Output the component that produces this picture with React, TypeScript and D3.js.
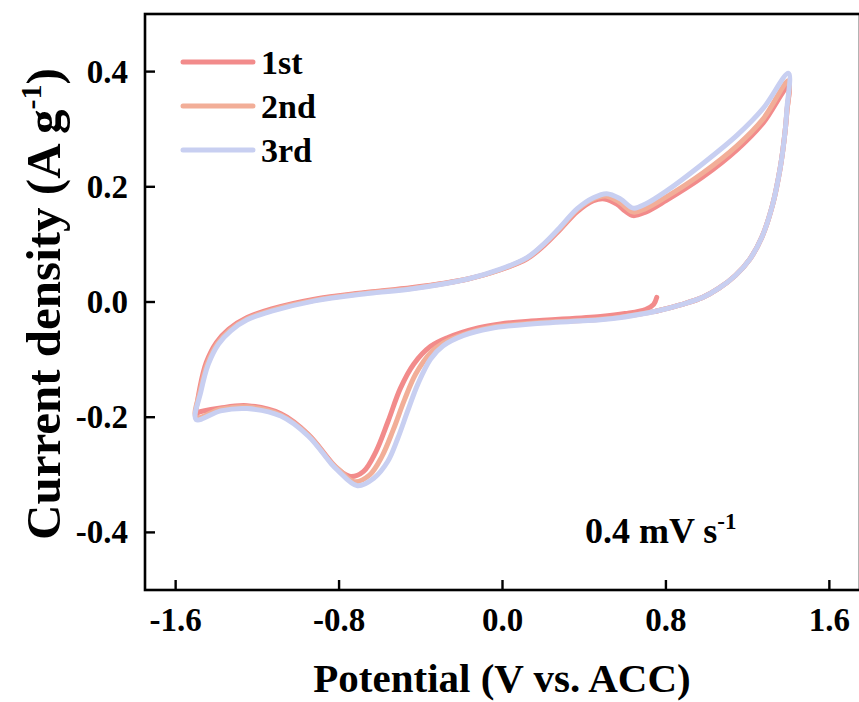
import React from 'react'
import * as d3 from 'd3'

// potential (V), current density (A/g)
const cycle1: [number, number][] = [
  [0.755, 0.008], [0.74, -0.004], [0.70, -0.013], [0.60, -0.020], [0.48, -0.025],
  [0.14, -0.033], [-0.01, -0.038], [-0.12, -0.045], [-0.27, -0.062], [-0.352, -0.077],
  [-0.435, -0.108], [-0.50, -0.150], [-0.56, -0.207], [-0.62, -0.260], [-0.68, -0.294],
  [-0.743, -0.303], [-0.80, -0.292], [-0.84, -0.277], [-0.95, -0.230], [-1.085, -0.194],
  [-1.25, -0.180], [-1.38, -0.184], [-1.49, -0.192], [-1.50, -0.196],
  [-1.482, -0.150], [-1.45, -0.105], [-1.40, -0.070], [-1.34, -0.047], [-1.25, -0.027],
  [-1.13, -0.012], [-0.92, 0.005], [-0.68, 0.016], [-0.44, 0.025], [-0.17, 0.040],
  [-0.01, 0.056], [0.12, 0.075], [0.20, 0.097], [0.28, 0.125], [0.366, 0.157],
  [0.445, 0.176], [0.50, 0.179], [0.56, 0.170], [0.60, 0.158], [0.64, 0.150],
  [0.70, 0.156], [0.80, 0.176], [0.98, 0.217], [1.15, 0.265], [1.276, 0.311], [1.40, 0.375],
  [1.392, 0.330], [1.383, 0.295], [1.36, 0.234], [1.32, 0.166], [1.27, 0.113],
  [1.21, 0.074], [1.14, 0.046], [1.06, 0.024], [0.98, 0.008], [0.88, -0.004],
  [0.75, -0.016],
]

const cycle2: [number, number][] = [
  [0.75, -0.016], [0.60, -0.025], [0.48, -0.030], [0.14, -0.037], [-0.06, -0.044],
  [-0.19, -0.056], [-0.29, -0.071], [-0.352, -0.088], [-0.425, -0.125], [-0.48, -0.170],
  [-0.535, -0.222], [-0.59, -0.268], [-0.65, -0.300], [-0.725, -0.312], [-0.80, -0.291],
  [-0.84, -0.278], [-0.95, -0.231], [-1.085, -0.196], [-1.25, -0.182], [-1.38, -0.186],
  [-1.50, -0.200],
  [-1.479, -0.153], [-1.445, -0.107], [-1.395, -0.072], [-1.335, -0.049], [-1.25, -0.029],
  [-1.13, -0.014], [-0.92, 0.003], [-0.68, 0.015], [-0.44, 0.024], [-0.17, 0.040],
  [-0.01, 0.056], [0.12, 0.076], [0.20, 0.099], [0.28, 0.127], [0.366, 0.160],
  [0.445, 0.179], [0.505, 0.184], [0.57, 0.174], [0.64, 0.156], [0.70, 0.162],
  [0.80, 0.182], [0.98, 0.224], [1.15, 0.272], [1.276, 0.318], [1.40, 0.384],
  [1.392, 0.330], [1.383, 0.295], [1.36, 0.234], [1.32, 0.166], [1.27, 0.113],
  [1.21, 0.074], [1.14, 0.046], [1.06, 0.024], [0.98, 0.008], [0.88, -0.004],
  [0.75, -0.016],
]

const cycle3: [number, number][] = [
  [0.75, -0.016], [0.60, -0.026], [0.48, -0.031], [0.14, -0.038], [-0.06, -0.046],
  [-0.19, -0.058], [-0.29, -0.076], [-0.352, -0.099], [-0.415, -0.143], [-0.465, -0.190],
  [-0.513, -0.237], [-0.562, -0.277], [-0.63, -0.306], [-0.71, -0.319], [-0.81, -0.291],
  [-0.84, -0.280], [-0.95, -0.233], [-1.085, -0.198], [-1.25, -0.185], [-1.38, -0.189],
  [-1.50, -0.204],
  [-1.476, -0.155], [-1.44, -0.108], [-1.39, -0.073], [-1.33, -0.050], [-1.25, -0.031],
  [-1.13, -0.016], [-0.92, 0.002], [-0.68, 0.014], [-0.44, 0.023], [-0.17, 0.040],
  [-0.01, 0.057], [0.12, 0.077], [0.20, 0.100], [0.28, 0.129], [0.366, 0.162],
  [0.445, 0.181], [0.51, 0.188], [0.577, 0.179], [0.64, 0.163], [0.70, 0.170],
  [0.80, 0.192], [0.98, 0.240], [1.15, 0.290], [1.276, 0.336], [1.40, 0.397],
  [1.392, 0.335], [1.383, 0.295], [1.36, 0.234], [1.32, 0.166], [1.27, 0.113],
  [1.21, 0.074], [1.14, 0.046], [1.06, 0.024], [0.98, 0.008], [0.88, -0.004],
  [0.74, -0.017], [0.577, -0.027],
]

const seriesNames = ['1st', '2nd', '3rd']
const seriesColors = ['#F28B8B', '#F2AE98', '#C8CFF1']
const xTicks = [-1.6, -0.8, 0.0, 0.8, 1.6]
const yTicks = [-0.4, -0.2, 0.0, 0.2, 0.4]

const W = 859
const H = 702
const font = '"Liberation Serif", "Times New Roman", serif'

const App = () => {
  const x = d3.scaleLinear().domain([-1.75, 1.75]).range([145, 860])
  const y = d3.scaleLinear().domain([-0.5, 0.5]).range([590, 14])

  const lineMaker = d3
    .line<[number, number]>()
    .curve(d3.curveCatmullRom.alpha(0.5))
    .x((d) => x(d[0]))
    .y((d) => y(d[1]))

  const cycles = [cycle1, cycle2, cycle3]

  return (
    <div style={{ position: 'fixed', left: 0, top: 0 }}>
      <svg width={W} height={H} style={{ display: 'block', background: '#fff' }} fontFamily={font} fontWeight="bold">
        <g id="curves">
          {cycles.map((c, i) => (
            <path key={i} d={lineMaker(c) || ''} fill="none" stroke={seriesColors[i]}
              strokeWidth={5} strokeLinejoin="round" strokeLinecap="round" />
          ))}
        </g>

        <rect x={x(-1.75)} y={y(0.5)} width={x(1.75) - x(-1.75)} height={y(-0.5) - y(0.5)}
          fill="none" stroke="#000" strokeWidth={2.6} />

        <g id="xaxis">
          {xTicks.map((t) => (
            <g key={t}>
              <line x1={x(t)} x2={x(t)} y1={y(-0.5)} y2={y(-0.5) - 10} stroke="#000" strokeWidth={2.4} />
              <text x={x(t)} y={631} textAnchor="middle" fontSize={33}>{t.toFixed(1)}</text>
            </g>
          ))}
          <text x={502} y={692} textAnchor="middle" fontSize={41}>Potential (V vs. ACC)</text>
        </g>

        <g id="yaxis">
          {yTicks.map((t) => (
            <g key={t}>
              <line x1={x(-1.75)} x2={x(-1.75) + 10} y1={y(t)} y2={y(t)} stroke="#000" strokeWidth={2.4} />
              <text x={128} y={y(t) + 11} textAnchor="end" fontSize={33}>{t.toFixed(1)}</text>
            </g>
          ))}
          <text transform={`translate(60,${y(0) + 2}) rotate(-90)`} textAnchor="middle" fontSize={49}>
            Current density (A g<tspan fontSize={30} dy={-19}>-1</tspan><tspan dy={19}>)</tspan>
          </text>
        </g>

        <g id="legend">
          {seriesNames.map((s, i) => (
            <g key={s}>
              <line x1={183} x2={253} y1={62 + i * 44} y2={62 + i * 44} stroke={seriesColors[i]}
                strokeWidth={5} strokeLinecap="round" />
              <text x={261} y={74 + i * 44} fontSize={34}>{s}</text>
            </g>
          ))}
        </g>

        <text x={585} y={543} fontSize={36}>
          0.4 mV s<tspan fontSize={23} dy={-14}>-1</tspan>
        </text>
      </svg>
    </div>
  )
}

export default App
